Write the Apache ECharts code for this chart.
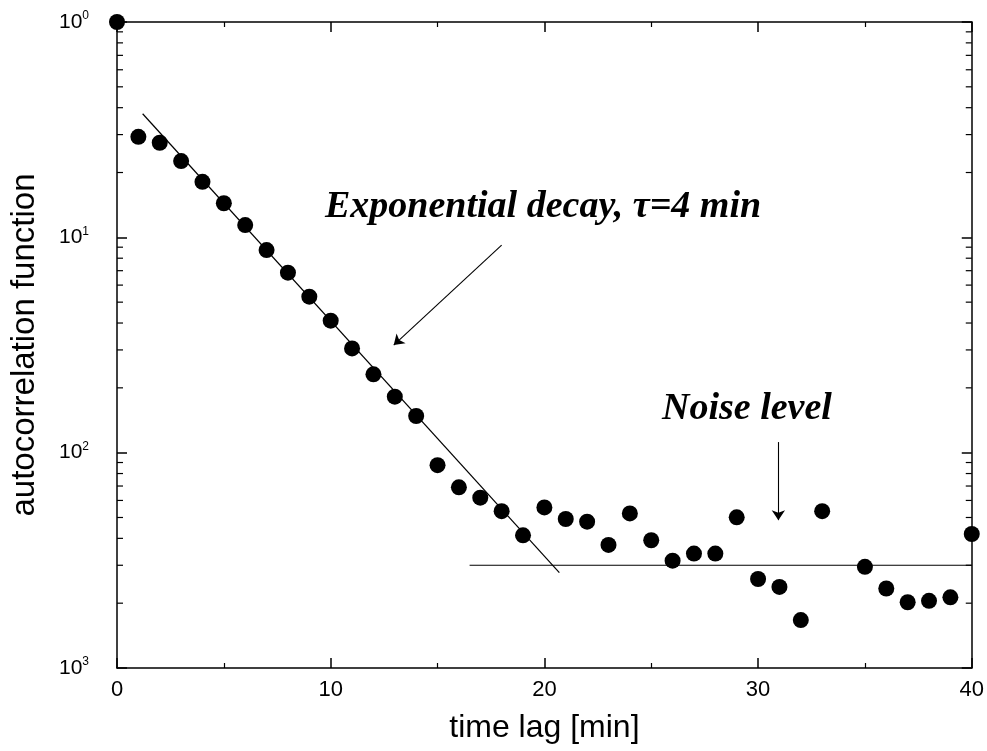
<!DOCTYPE html>
<html>
<head>
<meta charset="utf-8">
<title>autocorrelation function</title>
<script src="https://cdn.jsdelivr.net/npm/echarts@6/dist/echarts.min.js"></script>
<style>
  html, body { margin: 0; padding: 0; background: #fff; }
  #chart { width: 987px; height: 751px; }
</style>
</head>
<body>
<div id="chart"></div>
<script>
// time lag in minutes (no point at 34)
var lags = [0, 1, 2, 3, 4, 5, 6, 7, 8, 9, 10, 11, 12, 13, 14, 15, 16, 17, 18, 19, 20,
            21, 22, 23, 24, 25, 26, 27, 28, 29, 30, 31, 32, 33, 35, 36, 37, 38, 39, 40];
// autocorrelation values
var acf = [1.0, 0.293, 0.275, 0.226, 0.181, 0.144, 0.114, 0.0873, 0.0685, 0.053, 0.041,
           0.0305, 0.0231, 0.0182, 0.0148, 0.00875, 0.0069, 0.00618, 0.00535, 0.00413, 0.00557,
           0.00492, 0.00478, 0.00373, 0.00522, 0.00392, 0.00315, 0.0034, 0.0034, 0.00501, 0.00259,
           0.00238, 0.00167, 0.00535, 0.00295, 0.00234, 0.00202, 0.00205, 0.00213, 0.00419];
// fitted exponential (tau = 4 min), end points
var fitX = [1.2, 20.7];
var fitY = [0.375, 0.00277];
// noise level line
var noiseX = [16.5, 40];
var noiseY = [0.003, 0.003];
// arrows: [x0, y0, x1, y1]
var decayArrow = [18.0, 0.092, 12.95, 0.0316];
var noiseArrow = [30.95, 0.0112, 30.95, 0.00486];
// minor log ticks
var minorTicks = [0.002, 0.003, 0.004, 0.005, 0.006, 0.007, 0.008, 0.009,
                  0.02, 0.03, 0.04, 0.05, 0.06, 0.07, 0.08, 0.09,
                  0.2, 0.3, 0.4, 0.5, 0.6, 0.7, 0.8, 0.9];

function zip(a, b) {
    return a.map(function (v, i) { return [v, b[i]]; });
}

var black = '#000';
var sans = '"Liberation Sans", Arial, sans-serif';
var serif = '"Liberation Serif", "Times New Roman", serif';

var myChart = echarts.init(document.getElementById('chart'));

var xAxisBase = {
    type: 'value', min: 0, max: 40, interval: 10,
    axisLine: { onZero: false, lineStyle: { color: black, width: 1.5 } },
    axisTick: { inside: true, length: 10, lineStyle: { color: black, width: 1.5 } },
    minorTick: { show: true, splitNumber: 2, length: 5, lineStyle: { color: black, width: 1.2 } },
    splitLine: { show: false }
};
var yAxisBase = {
    type: 'log', logBase: 10, min: 0.001, max: 1,
    axisLine: { onZero: false, lineStyle: { color: black, width: 1.5 } },
    axisTick: { inside: true, length: 10, lineStyle: { color: black, width: 1.5 } },
    splitLine: { show: false }
};

var option = {
    backgroundColor: '#fff',
    animation: false,
    grid: { left: 116, right: 13, top: 22, bottom: 83 },
    xAxis: [
        echarts.util.merge({
            position: 'bottom',
            name: 'time lag [min]',
            nameLocation: 'middle',
            nameGap: 44,
            nameTextStyle: { fontFamily: sans, fontSize: 32, color: black },
            axisLabel: { fontFamily: sans, fontSize: 22, color: black, margin: 11 }
        }, xAxisBase, true),
        echarts.util.merge({
            position: 'top',
            axisLabel: { show: false }
        }, xAxisBase, true)
    ],
    yAxis: [
        echarts.util.merge({
            position: 'left',
            name: 'autocorrelation function',
            nameLocation: 'middle',
            nameGap: 76,
            nameTextStyle: { fontFamily: sans, fontSize: 33, color: black },
            axisLabel: {
                margin: 28,
                formatter: function (v) {
                    var n = Math.round(-Math.log(v) / Math.LN10);
                    return '{b|10}{s|' + n + '}';
                },
                rich: {
                    b: { fontFamily: sans, fontSize: 21, color: black },
                    s: { fontFamily: sans, fontSize: 12, color: black, padding: [0, 0, 12, 0] }
                }
            }
        }, yAxisBase, true),
        echarts.util.merge({
            position: 'right',
            axisLabel: { show: false }
        }, yAxisBase, true)
    ],
    graphic: [
        {
            type: 'text', left: 325, top: 188, silent: true,
            style: {
                text: 'Exponential decay, τ=4 min',
                font: 'italic bold 38px ' + serif,
                fill: black
            }
        },
        {
            type: 'text', left: 662, top: 390, silent: true,
            style: {
                text: 'Noise level',
                font: 'italic bold 38px ' + serif,
                fill: black
            }
        }
    ],
    series: [
        {
            type: 'custom',
            coordinateSystem: 'cartesian2d',
            clip: false,
            silent: true,
            data: minorTicks.map(function (v) { return [0, v]; }),
            renderItem: function (params, api) {
                var v = api.value(1);
                var l = api.coord([0, v]);
                var r = api.coord([40, v]);
                var st = { stroke: black, lineWidth: 1.2 };
                return {
                    type: 'group',
                    children: [
                        { type: 'line', shape: { x1: l[0], y1: l[1], x2: l[0] + 6, y2: l[1] }, style: st },
                        { type: 'line', shape: { x1: r[0], y1: r[1], x2: r[0] - 6, y2: r[1] }, style: st }
                    ]
                };
            }
        },
        {
            type: 'line',
            data: zip(fitX, fitY),
            showSymbol: false,
            silent: true,
            lineStyle: { color: black, width: 1.2 },
            markLine: {
                silent: true,
                symbol: ['none', 'arrow'],
                symbolSize: 10,
                label: { show: false },
                lineStyle: { color: black, width: 1.1, type: 'solid' },
                data: [
                    [{ coord: [decayArrow[0], decayArrow[1]] }, { coord: [decayArrow[2], decayArrow[3]] }],
                    [{ coord: [noiseArrow[0], noiseArrow[1]] }, { coord: [noiseArrow[2], noiseArrow[3]] }]
                ]
            }
        },
        {
            type: 'line',
            data: zip(noiseX, noiseY),
            showSymbol: false,
            silent: true,
            lineStyle: { color: black, width: 1.2 }
        },
        {
            type: 'scatter',
            data: zip(lags, acf),
            symbol: 'circle',
            symbolSize: 16,
            clip: false,
            z: 5,
            itemStyle: { color: black, opacity: 1 }
        }
    ]
};

myChart.setOption(option, true);
</script>
</body>
</html>
